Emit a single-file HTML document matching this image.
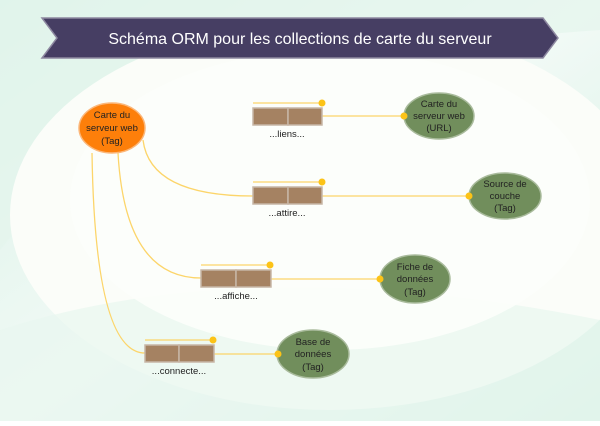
<!DOCTYPE html>
<html><head><meta charset="utf-8"><style>
html,body{margin:0;padding:0;}
body{width:600px;height:421px;overflow:hidden;background:#fff;}
text{font-family:"Comic Sans MS","Liberation Sans",sans-serif;}
</style></head><body>
<svg width="600" height="421" viewBox="0 0 600 421" xmlns="http://www.w3.org/2000/svg">
<defs>
<linearGradient id="bg" x1="0" y1="0" x2="1" y2="1">
<stop offset="0" stop-color="#d8f1e6"/><stop offset="0.5" stop-color="#f2faf6"/><stop offset="1" stop-color="#cfeee0"/>
</linearGradient>
</defs>
<rect width="600" height="421" fill="url(#bg)"/>
<path d="M0 250 Q150 60 600 30 L600 0 L0 0 Z" fill="#e4f5ed" opacity="0.7"/>
<ellipse cx="330" cy="215" rx="320" ry="195" fill="#fbfdf9"/>
<path d="M0 330 Q250 250 600 320 L600 421 L0 421 Z" fill="#e8f6ef" opacity="0.7"/>
<ellipse cx="330" cy="200" rx="260" ry="150" fill="#fcfefb" opacity="0.9"/>
<!-- banner -->
<polygon points="42,18 543,18 558,38 543,58 42,58 57,38" fill="#463e63" stroke="#8d88a0" stroke-width="1.5"/>
<text x="300" y="44" text-anchor="middle" font-size="16" fill="#fff">Schéma ORM pour les collections de carte du serveur</text>
<g fill="none" stroke="#fcd56a" stroke-width="1.3">
<path d="M143 140 Q150 196 253 196"/>
<path d="M118 153 Q125 278 201 278"/>
<path d="M92 153 Q95 353 145 353"/>
<line x1="322" y1="116" x2="404" y2="116"/>
<line x1="322" y1="196" x2="469" y2="196"/>
<line x1="271" y1="279" x2="380" y2="279"/>
<line x1="214" y1="354" x2="278" y2="354"/>
<line x1="253" y1="103" x2="322" y2="103"/>
<line x1="253" y1="182" x2="322" y2="182"/>
<line x1="201" y1="265" x2="270" y2="265"/>
<line x1="145" y1="340" x2="213" y2="340"/>
</g>
<g fill="#fcc317">
<circle cx="322" cy="103" r="3.5"/><circle cx="322" cy="182" r="3.5"/><circle cx="270" cy="265" r="3.5"/><circle cx="213" cy="340" r="3.5"/>
</g>
<g fill="#a58262" stroke="#c7b6a6" stroke-width="1.5">
<rect x="253" y="108" width="35" height="17"/><rect x="288" y="108" width="34" height="17"/>
<rect x="253" y="187" width="35" height="17"/><rect x="288" y="187" width="34" height="17"/>
<rect x="201" y="270" width="35" height="17"/><rect x="236" y="270" width="35" height="17"/>
<rect x="145" y="345" width="34" height="17"/><rect x="179" y="345" width="35" height="17"/>
</g>
<g font-size="9.5" fill="#222" text-anchor="middle">
<text x="287" y="137">...liens...</text>
<text x="287" y="216">...attire...</text>
<text x="236" y="299">...affiche...</text>
<text x="179" y="374">...connecte...</text>
</g>
<ellipse cx="112" cy="128" rx="33" ry="25" fill="#fd7f0a" stroke="#fbb77a" stroke-width="1.5"/>
<g fill="#718e5c" stroke="#a9bb9c" stroke-width="1.5">
<ellipse cx="439" cy="116" rx="35" ry="23"/>
<ellipse cx="505" cy="196" rx="36" ry="23"/>
<ellipse cx="415" cy="279" rx="35" ry="24"/>
<ellipse cx="313" cy="354" rx="36" ry="24"/>
</g>
<g fill="#fcc317">
<circle cx="404" cy="116" r="3.5"/><circle cx="469" cy="196" r="3.5"/><circle cx="380" cy="279" r="3.5"/><circle cx="278" cy="354" r="3.5"/>
</g>
<g font-size="9.5" fill="#222" text-anchor="middle">
<text x="112" y="118">Carte du</text><text x="112" y="131">serveur web</text><text x="112" y="144">(Tag)</text>
<text x="439" y="107">Carte du</text><text x="439" y="119">serveur web</text><text x="439" y="131">(URL)</text>
<text x="505" y="187">Source de</text><text x="505" y="199">couche</text><text x="505" y="211">(Tag)</text>
<text x="415" y="270">Fiche de</text><text x="415" y="282">données</text><text x="415" y="295">(Tag)</text>
<text x="313" y="345">Base de</text><text x="313" y="357">données</text><text x="313" y="370">(Tag)</text>
</g>
</svg>
</body></html>
